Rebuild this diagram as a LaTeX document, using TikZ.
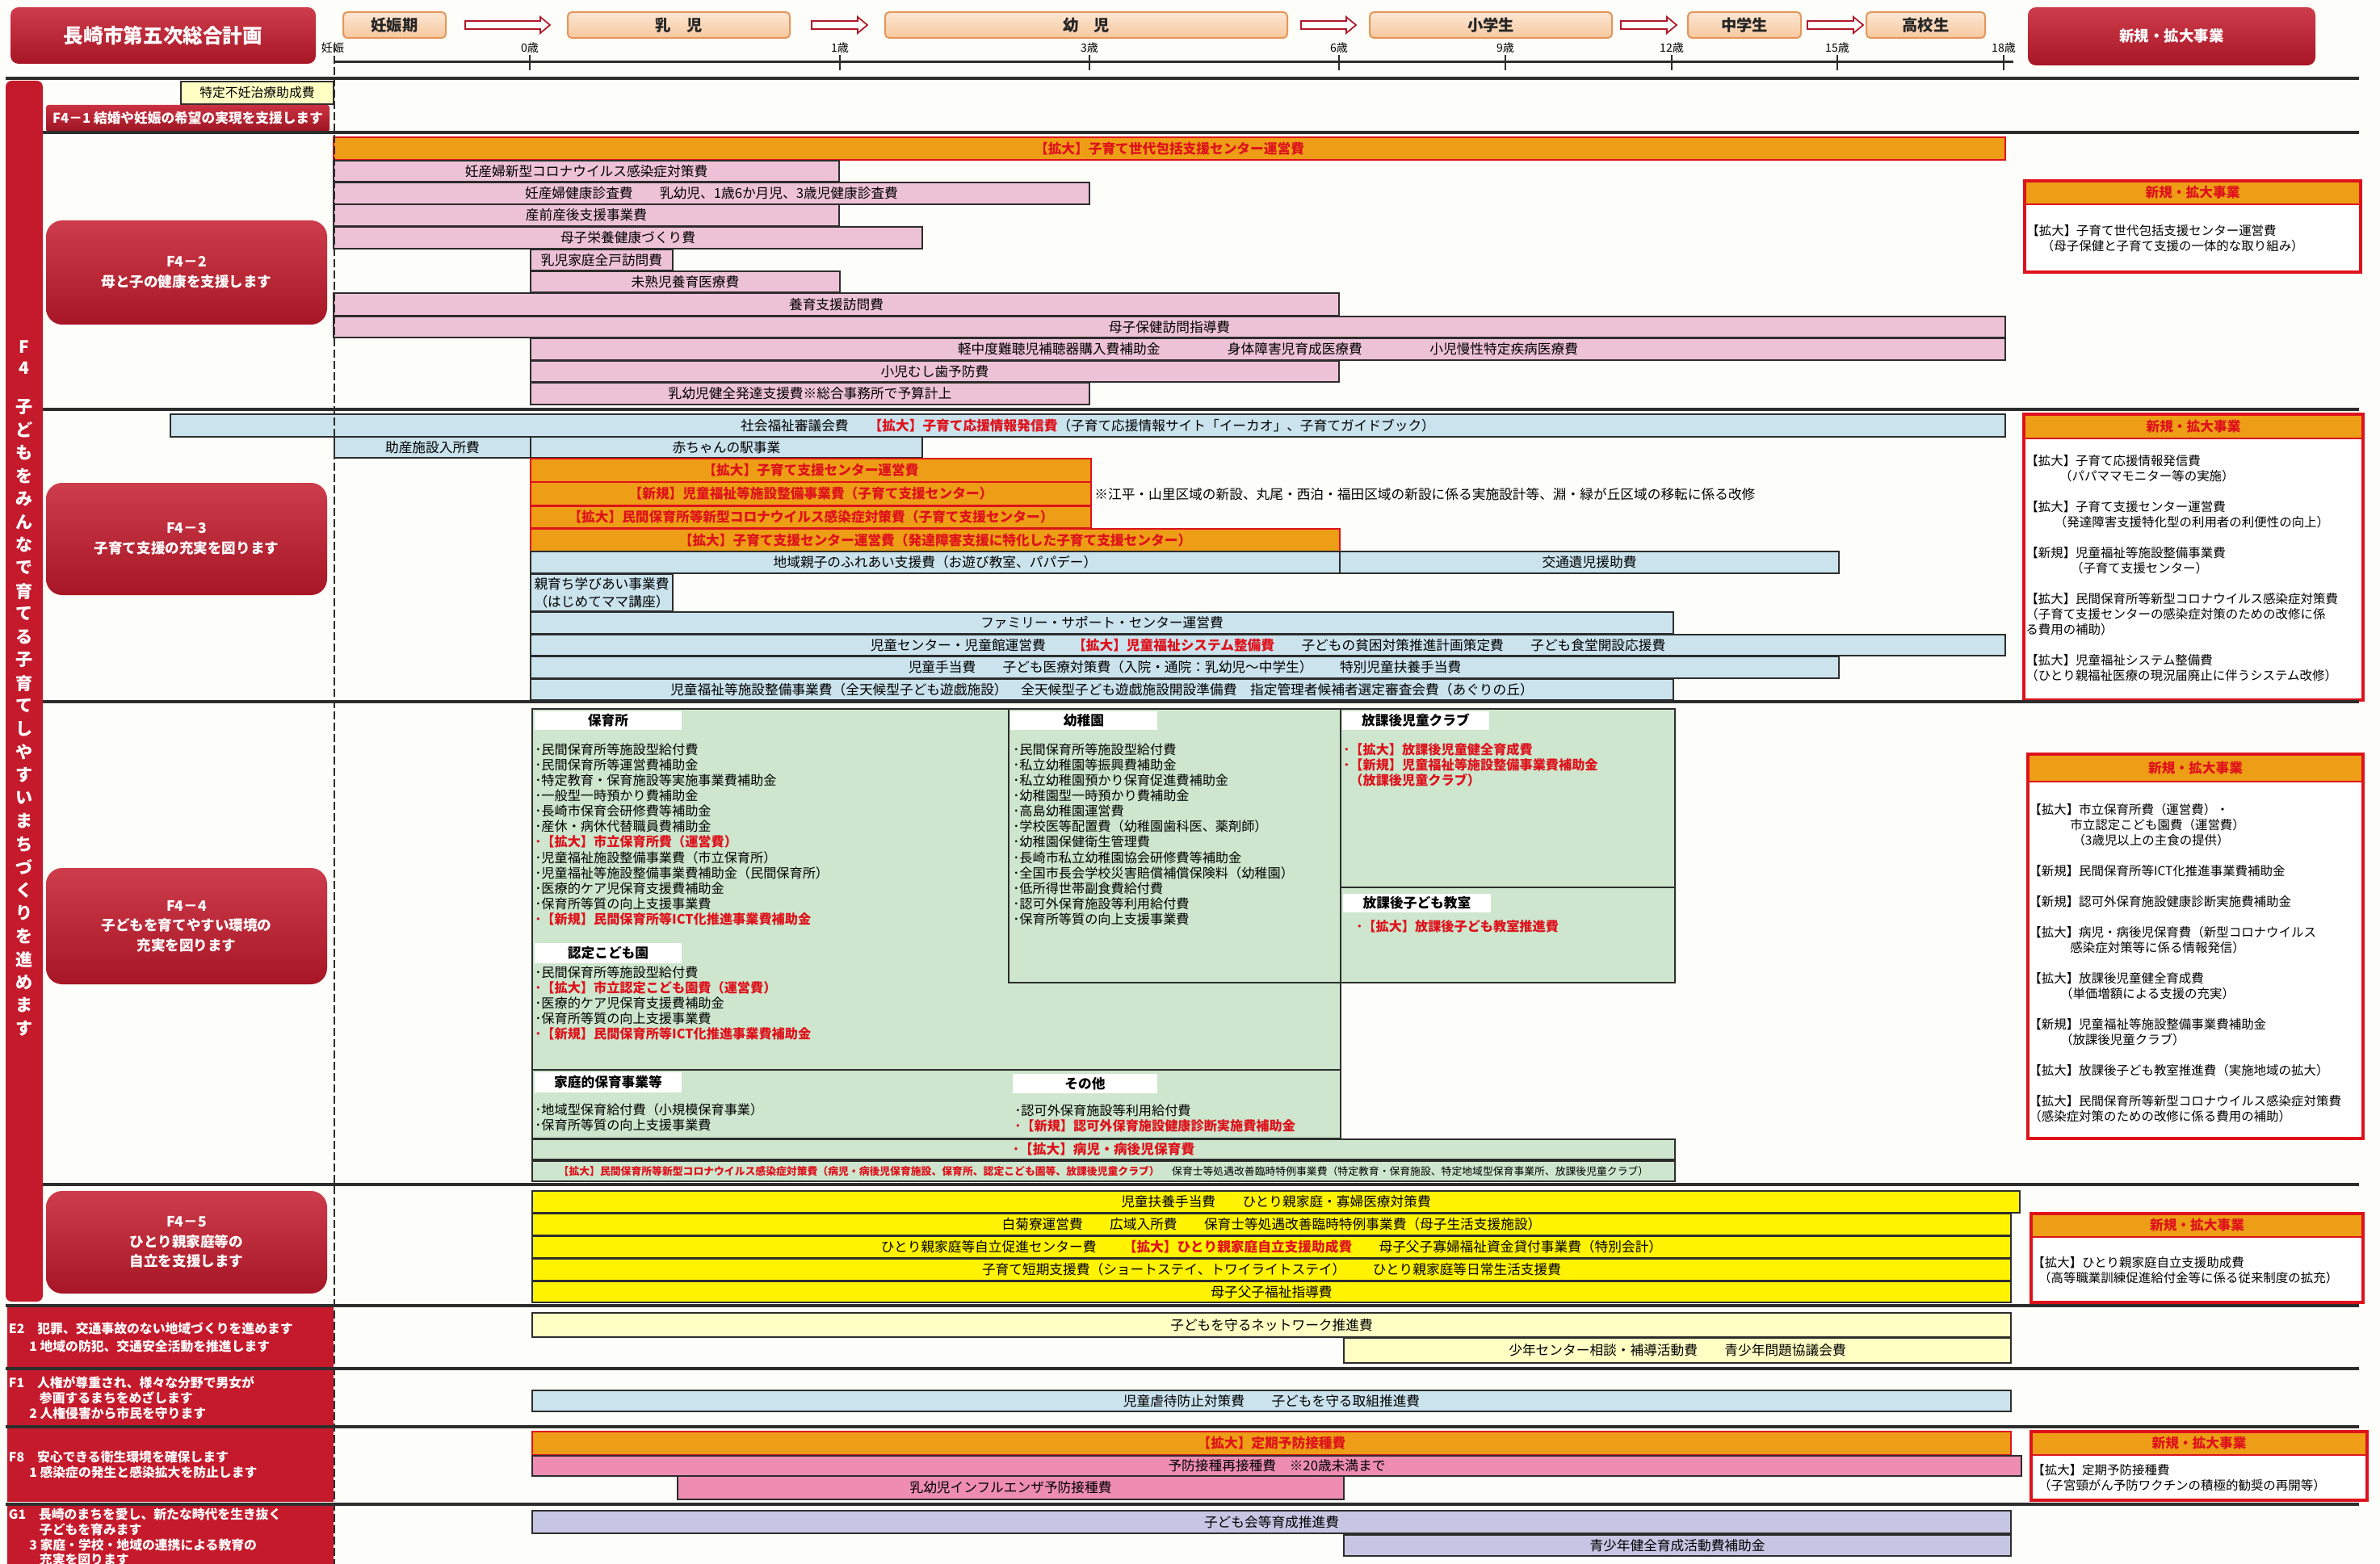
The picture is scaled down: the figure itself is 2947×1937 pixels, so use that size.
\documentclass[tikz,border=0pt]{standalone}
\usepackage{fontspec}
\setmainfont{Noto Sans CJK JP}
\usetikzlibrary{calc}
\definecolor{planRed}{RGB}{197,26,44}
\definecolor{planOrange}{RGB}{237,158,22}
\definecolor{planPink}{RGB}{238,194,214}
\definecolor{planRose}{RGB}{238,140,178}
\definecolor{planBlue}{RGB}{202,227,237}
\definecolor{planGreen}{RGB}{205,230,205}
\definecolor{planYellow}{RGB}{255,243,0}
\definecolor{planCream}{RGB}{255,255,196}
\definecolor{planLilac}{RGB}{198,198,228}
\definecolor{planPeach}{RGB}{247,200,158}
\definecolor{planPeachLine}{RGB}{230,150,90}
\definecolor{textRed}{RGB}{222,18,28}
\definecolor{lineGray}{RGB}{45,45,45}
\definecolor{paperWhite}{RGB}{253,253,249}
\newcommand{\Hot}[1]{{\bfseries\color{textRed}#1}}
\newcommand{\PlanBar}[7]{%
  \pgfmathsetmacro{\planw}{((#5)-(#3))*0.2}%
  \pgfmathsetmacro{\planh}{((#6)-(#4))*0.2}%
  \node[#2,minimum width=\planw mm,minimum height=\planh mm] (#1) at ({((#3)+(#5))/2},{((#4)+(#6))/2}) {#7};}
\newcommand{\NewsBox}[6]{%
  \fill[white] (#2,#3) rectangle (#4,#5);
  \PlanBar{#1}{newshead}{#2}{#3}{#4}{#6}{新規・拡大事業}
  \draw[textRed,line width=0.8mm] (#2,#3) rectangle (#4,#5);}
\newcommand{\StageArrow}[4]{%
  \draw[stagearrow] ($(#1.east)+(#3,-5)$) -- ($(#2.west)+(-#4-12,-5)$) -- ($(#2.west)+(-#4-12,-10)$)
    -- ($(#2.west)+(-#4,0)$) -- ($(#2.west)+(-#4-12,10)$) -- ($(#2.west)+(-#4-12,5)$)
    -- ($(#1.east)+(#3,5)$) -- cycle;}
\tikzset{
  planbase/.style={draw=lineGray,line width=0.35mm,inner sep=0pt,outer sep=0pt,text=black,font=\fontsize{9.5}{11.4}\selectfont},
  orangebar/.style={planbase,draw=textRed,line width=0.55mm,fill=planOrange,text=textRed,font=\bfseries\fontsize{9.5}{11.4}\selectfont},
  pinkbar/.style={planbase,fill=planPink},
  bluebar/.style={planbase,fill=planBlue},
  yellowbar/.style={planbase,fill=planYellow},
  creambar/.style={planbase,fill=planCream},
  rosebar/.style={planbase,fill=planRose},
  lilacbar/.style={planbase,fill=planLilac},
  greenpanel/.style={planbase,fill=planGreen},
  tagbox/.style={planbase,fill=planCream,font=\fontsize{9}{11}\selectfont},
  paneltag/.style={inner sep=0pt,fill=white,font=\bfseries\fontsize{9.5}{11.4}\selectfont},
  titlebox/.style={rounded corners=2mm,top color=planRed!85!white,bottom color=planRed!85!black,draw=none,inner sep=0pt,text=white,font=\bfseries\fontsize{14}{16}\selectfont},
  goalbox/.style={rounded corners=4mm,top color=planRed!85!white,bottom color=planRed!85!black,draw=none,inner sep=0pt,text=white,align=center,font=\bfseries\fontsize{10}{14}\selectfont},
  goalstrip/.style={rounded corners=0.6mm,top color=planRed!90!white,bottom color=planRed!80!black,draw=none,inner sep=0pt,text=white,font=\bfseries\fontsize{9.5}{11}\selectfont},
  sidebar/.style={rounded corners=1.5mm,fill=planRed,draw=none,inner sep=0pt},
  sideblock/.style={fill=planRed,draw=none,inner sep=0pt},
  sidetext/.style={anchor=west,align=left,inner sep=0pt,text=white,font=\bfseries\fontsize{9}{10.8}\selectfont},
  verttext/.style={inner sep=0pt,text=white,align=center,font=\bfseries\fontsize{12}{14.8}\selectfont},
  stagebox/.style={rounded corners=1mm,draw=planPeachLine,line width=0.4mm,top color=planPeach!45!white,bottom color=planPeach,inner sep=0pt,text=black!85,font=\bfseries\fontsize{11}{13}\selectfont},
  stagearrow/.style={draw=planRed!90!black,line width=0.35mm,fill=white,line join=miter},
  agelabel/.style={inner sep=0pt,font=\fontsize{8}{9}\selectfont},
  axisline/.style={draw=lineGray,line width=0.6mm},
  tickline/.style={draw=lineGray,line width=0.3mm},
  sepline/.style={draw=lineGray,line width=0.7mm},
  dashline/.style={draw=lineGray,line width=0.35mm,dash pattern=on 2mm off 0.8mm},
  newshead/.style={fill=planOrange,draw=textRed,line width=0.5mm,inner sep=0pt,text=textRed,font=\bfseries\fontsize{9.5}{11.4}\selectfont},
  newstext/.style={anchor=north west,align=left,inner sep=0pt,font=\fontsize{8.8}{10.8}\selectfont},
  listtext/.style={anchor=north west,align=left,inner sep=0pt,font=\fontsize{9.2}{10.9}\selectfont},
  notetext/.style={anchor=west,inner sep=0pt,font=\fontsize{9.5}{11.4}\selectfont}
}
\begin{document}
\begin{tikzpicture}[x=0.2mm,y=-0.2mm]
\fill[paperWhite] (0,0) rectangle (2947,1937);
\useasboundingbox (0,0) rectangle (2947,1937);

\PlanBar{title}{titlebox}{13}{9}{391}{79}{長崎市第五次総合計画}
\PlanBar{newhead}{titlebox,font=\bfseries\fontsize{10.5}{12}\selectfont}{2511}{9}{2867}{81}{新規・拡大事業}
\PlanBar{ninshin}{stagebox}{425}{15}{552}{47}{妊娠期}
\PlanBar{nyuji}{stagebox}{703}{15}{978}{47}{乳\hspace{1em}児}
\PlanBar{yoji}{stagebox}{1096}{15}{1594}{47}{幼\hspace{1em}児}
\PlanBar{shogaku}{stagebox}{1696}{15}{1996}{47}{小学生}
\PlanBar{chugaku}{stagebox}{2090}{15}{2230}{47}{中学生}
\PlanBar{koko}{stagebox}{2311}{15}{2458}{47}{高校生}
\StageArrow{ninshin}{nyuji}{23}{21}
\StageArrow{nyuji}{yoji}{26}{21}
\StageArrow{yoji}{shogaku}{16}{16}
\StageArrow{shogaku}{chugaku}{10}{13}
\StageArrow{chugaku}{koko}{7}{3}
\draw[axisline] (413,77) -- (2493,77);
\node[agelabel] (ageP) at (412,59) {妊娠};
\foreach \ax/\lab [count=\i] in {656/0歳,1040/1歳,1349/3歳,1658/6歳,1864/9歳,2070/12歳,2275/15歳,2481/18歳}{
  \draw[tickline] (\ax,68) -- (\ax,87);
  \node[agelabel] (age\i) at (\ax,59) {\lab};}

\PlanBar{f4bar}{sidebar}{7}{100}{53}{1612}{}
\node[verttext] (f4code) at (30,443) {F\\4};
\foreach \ch [count=\i] in {子,ど,も,を,み,ん,な,で,育,て,る,子,育,て,し,や,す,い,ま,ち,づ,く,り,を,進,め,ま,す}
  \node[verttext] (f4v\i) at (30,{475.5+\i*28.5}) {\ch};

\PlanBar{funin}{tagbox}{224}{101}{413}{129}{特定不妊治療助成費}
\PlanBar{f41}{goalstrip}{57}{130}{408}{163}{F4－1 結婚や妊娠の希望の実現を支援します}

\PlanBar{f42}{goalbox}{57}{273}{405}{402}{F4－2\\母と子の健康を支援します}
\PlanBar{hubCenter}{orangebar}{413}{170}{2483}{198}{【拡大】子育て世代包括支援センター運営費}
\PlanBar{pk1}{pinkbar}{413}{199}{1039}{225}{妊産婦新型コロナウイルス感染症対策費}
\PlanBar{pk2}{pinkbar}{413}{226}{1349}{253}{妊産婦健康診査費\hspace{2em}乳幼児、1歳6か月児、3歳児健康診査費}
\PlanBar{pk3}{pinkbar}{413}{253}{1039}{280}{産前産後支援事業費}
\PlanBar{pk4}{pinkbar}{413}{281}{1142}{308}{母子栄養健康づくり費}
\PlanBar{pk5}{pinkbar}{657}{309}{833}{335}{乳児家庭全戸訪問費}
\PlanBar{pk6}{pinkbar}{657}{336}{1040}{362}{未熟児養育医療費}
\PlanBar{pk7}{pinkbar}{413}{363}{1658}{391}{養育支援訪問費}
\PlanBar{pk8}{pinkbar}{413}{392}{2483}{418}{母子保健訪問指導費}
\PlanBar{pk9}{pinkbar}{657}{419}{2483}{446}{軽中度難聴児補聴器購入費補助金\hspace{5em}身体障害児育成医療費\hspace{5em}小児慢性特定疾病医療費}
\PlanBar{pk10}{pinkbar}{657}{447}{1658}{473}{小児むし歯予防費}
\PlanBar{pk11}{pinkbar}{657}{474}{1349}{501}{乳幼児健全発達支援費※総合事務所で予算計上}
\NewsBox{news42}{2507}{224}{2923}{337}{253}
\node[newstext] (news42text) at (2509,278) {【拡大】子育て世代包括支援センター運営費\\\hspace*{1.2em}（母子保健と子育て支援の一体的な取り組み）};

\PlanBar{f43}{goalbox}{57}{598}{405}{737}{F4－3\\子育て支援の充実を図ります}
\PlanBar{bl1}{bluebar}{211}{513}{2483}{541}{社会福祉審議会費\hspace{1.5em}\Hot{【拡大】子育て応援情報発信費}（子育て応援情報サイト「イーカオ」、子育てガイドブック）}
\PlanBar{bl2}{bluebar}{414}{541}{657}{567}{助産施設入所費}
\PlanBar{bl3}{bluebar}{657}{541}{1142}{567}{赤ちゃんの駅事業}
\PlanBar{or1}{orangebar}{657}{568}{1351}{597}{【拡大】子育て支援センター運営費}
\PlanBar{or2}{orangebar}{657}{597}{1351}{626}{【新規】児童福祉等施設整備事業費（子育て支援センター）}
\PlanBar{or3}{orangebar}{657}{627}{1351}{654}{【拡大】民間保育所等新型コロナウイルス感染症対策費（子育て支援センター）}
\PlanBar{or4}{orangebar}{657}{655}{1659}{683}{【拡大】子育て支援センター運営費（発達障害支援に特化した子育て支援センター）}
\node[notetext] (kaishuNote) at (1355,612) {※江平・山里区域の新設、丸尾・西泊・福田区域の新設に係る実施設計等、淵・緑が丘区域の移転に係る改修};
\PlanBar{bl4}{bluebar}{657}{683}{1659}{710}{地域親子のふれあい支援費（お遊び教室、パパデー）}
\PlanBar{bl5}{bluebar}{1659}{683}{2277}{710}{交通遺児援助費}
\PlanBar{bl6}{bluebar,align=center,font=\fontsize{9.5}{12.5}\selectfont}{657}{711}{833}{757}{親育ち学びあい事業費\\（はじめてママ講座）}
\PlanBar{bl7}{bluebar}{657}{758}{2072}{785}{ファミリー・サポート・センター運営費}
\PlanBar{bl8}{bluebar}{657}{786}{2483}{812}{児童センター・児童館運営費\hspace{2em}\Hot{【拡大】児童福祉システム整備費}\hspace{2em}子どもの貧困対策推進計画策定費\hspace{2em}子ども食堂開設応援費}
\PlanBar{bl9}{bluebar}{657}{813}{2277}{840}{児童手当費\hspace{2em}子ども医療対策費（入院・通院：乳幼児～中学生）\hspace{2em}特別児童扶養手当費}
\PlanBar{bl10}{bluebar}{657}{841}{2072}{867}{児童福祉等施設整備事業費（全天候型子ども遊戯施設）\hspace{1em}全天候型子ども遊戯施設開設準備費\hspace{1em}指定管理者候補者選定審査会費（あぐりの丘）}
\NewsBox{news43}{2506}{513}{2926}{867}{543}
\node[newstext] (news43text) at (2508,563) {【拡大】子育て応援情報発信費\\
\hspace*{2.7em}（パパママモニター等の実施）\\[3.8mm]
【拡大】子育て支援センター運営費\\
\hspace*{2.3em}（発達障害支援特化型の利用者の利便性の向上）\\[3.8mm]
【新規】児童福祉等施設整備事業費\\
\hspace*{3.6em}（子育て支援センター）\\[3.8mm]
【拡大】民間保育所等新型コロナウイルス感染症対策費\\
（子育て支援センターの感染症対策のための改修に係\\
る費用の補助）\\[3.8mm]
【拡大】児童福祉システム整備費\\
（ひとり親福祉医療の現況届廃止に伴うシステム改修）};

\PlanBar{f44}{goalbox}{57}{1075}{405}{1219}{F4－4\\子どもを育てやすい環境の\\充実を図ります}
\PlanBar{hoikuPanel}{greenpanel}{659}{878}{1660}{1325}{}
\PlanBar{yochienPanel}{greenpanel}{1249}{878}{1660}{1217}{}
\PlanBar{clubPanel}{greenpanel}{1660}{878}{2074}{1099}{}
\PlanBar{kyoshitsuPanel}{greenpanel}{1660}{1099}{2074}{1217}{}
\PlanBar{kateiPanel}{greenpanel}{659}{1325}{1660}{1410}{}
\PlanBar{byojiRow}{greenpanel}{659}{1411}{2074}{1436}{\Hot{･【拡大】病児・病後児保育費}}
\PlanBar{coronaRow}{greenpanel,font=\fontsize{7.3}{9}\selectfont}{659}{1438}{2074}{1463}{\Hot{【拡大】民間保育所等新型コロナウイルス感染症対策費（病児・病後児保育施設、保育所、認定こども園等、放課後児童クラブ）}\hspace{1.2em}保育士等処遇改善臨時特例事業費（特定教育・保育施設、特定地域型保育事業所、放課後児童クラブ）}
\PlanBar{hoikuTag}{paneltag}{662}{881}{844}{904}{保育所}
\PlanBar{yochienTag}{paneltag}{1251}{881}{1433}{904}{幼稚園}
\PlanBar{clubTag}{paneltag}{1662}{881}{1844}{904}{放課後児童クラブ}
\PlanBar{kyoshitsuTag}{paneltag}{1663}{1107}{1846}{1130}{放課後子ども教室}
\PlanBar{ninteiTag}{paneltag}{662}{1168}{844}{1193}{認定こども園}
\PlanBar{kateiTag}{paneltag}{662}{1328}{844}{1353}{家庭的保育事業等}
\PlanBar{sonotaTag}{paneltag}{1254}{1330}{1433}{1354}{その他}
\node[listtext] (hoikuList) at (662,920) {･民間保育所等施設型給付費\\
･民間保育所等運営費補助金\\
･特定教育・保育施設等実施事業費補助金\\
･一般型一時預かり費補助金\\
･長崎市保育会研修費等補助金\\
･産休・病休代替職員費補助金\\
\Hot{･【拡大】市立保育所費（運営費）}\\
･児童福祉施設整備事業費（市立保育所）\\
･児童福祉等施設整備事業費補助金（民間保育所）\\
･医療的ケア児保育支援費補助金\\
･保育所等質の向上支援事業費\\
\Hot{･【新規】民間保育所等ICT化推進事業費補助金}};
\node[listtext] (yochienList) at (1254,920) {･民間保育所等施設型給付費\\
･私立幼稚園等振興費補助金\\
･私立幼稚園預かり保育促進費補助金\\
･幼稚園型一時預かり費補助金\\
･高島幼稚園運営費\\
･学校医等配置費（幼稚園歯科医、薬剤師）\\
･幼稚園保健衛生管理費\\
･長崎市私立幼稚園協会研修費等補助金\\
･全国市長会学校災害賠償補償保険料（幼稚園）\\
･低所得世帯副食費給付費\\
･認可外保育施設等利用給付費\\
･保育所等質の向上支援事業費};
\node[listtext] (clubList) at (1663,920) {\Hot{･【拡大】放課後児童健全育成費}\\
\Hot{･【新規】児童福祉等施設整備事業費補助金}\\
\Hot{\hspace*{0.5em}（放課後児童クラブ）}};
\node[listtext] (kyoshitsuList) at (1679,1139) {\Hot{･【拡大】放課後子ども教室推進費}};
\node[listtext] (ninteiList) at (662,1196) {･民間保育所等施設型給付費\\
\Hot{･【拡大】市立認定こども園費（運営費）}\\
･医療的ケア児保育支援費補助金\\
･保育所等質の向上支援事業費\\
\Hot{･【新規】民間保育所等ICT化推進事業費補助金}};
\node[listtext] (kateiList) at (662,1366) {･地域型保育給付費（小規模保育事業）\\
･保育所等質の向上支援事業費};
\node[listtext] (sonotaList) at (1256,1367) {･認可外保育施設等利用給付費\\
\Hot{･【新規】認可外保育施設健康診断実施費補助金}};
\NewsBox{news44}{2511}{934}{2926}{1410}{968}
\node[newstext] (news44text) at (2512,995) {【拡大】市立保育所費（運営費）・\\
\hspace*{3.3em}市立認定こども園費（運営費）\\
\hspace*{3.5em}（3歳児以上の主食の提供）\\[3.8mm]
【新規】民間保育所等ICT化推進事業費補助金\\[3.8mm]
【新規】認可外保育施設健康診断実施費補助金\\[3.8mm]
【拡大】病児・病後児保育費（新型コロナウイルス\\
\hspace*{3.3em}感染症対策等に係る情報発信）\\[3.8mm]
【拡大】放課後児童健全育成費\\
\hspace*{2.5em}（単価増額による支援の充実）\\[3.8mm]
【新規】児童福祉等施設整備事業費補助金\\
\hspace*{2.5em}（放課後児童クラブ）\\[3.8mm]
【拡大】放課後子ども教室推進費（実施地域の拡大）\\[3.8mm]
【拡大】民間保育所等新型コロナウイルス感染症対策費\\
（感染症対策のための改修に係る費用の補助）};

\PlanBar{f45}{goalbox}{57}{1475}{405}{1602}{F4－5\\ひとり親家庭等の\\自立を支援します}
\PlanBar{ye1}{yellowbar}{659}{1475}{2501}{1502}{児童扶養手当費\hspace{2em}ひとり親家庭・寡婦医療対策費}
\PlanBar{ye2}{yellowbar}{659}{1503}{2490}{1530}{白菊寮運営費\hspace{2em}広域入所費\hspace{2em}保育士等処遇改善臨時特例事業費（母子生活支援施設）}
\PlanBar{ye3}{yellowbar}{659}{1531}{2490}{1558}{ひとり親家庭等自立促進センター費\hspace{2em}\Hot{【拡大】ひとり親家庭自立支援助成費}\hspace{2em}母子父子寡婦福祉資金貸付事業費（特別会計）}
\PlanBar{ye4}{yellowbar}{659}{1559}{2490}{1586}{子育て短期支援費（ショートステイ、トワイライトステイ）\hspace{2em}ひとり親家庭等日常生活支援費}
\PlanBar{ye5}{yellowbar}{659}{1587}{2490}{1613}{母子父子福祉指導費}
\NewsBox{news45}{2515}{1503}{2926}{1613}{1532}
\node[newstext] (news45text) at (2516,1556) {【拡大】ひとり親家庭自立支援助成費\\\hspace*{0.5em}（高等職業訓練促進給付金等に係る従来制度の拡充）};

\PlanBar{e2}{sideblock}{9}{1619}{413}{1693}{}
\node[sidetext] (e2text) at ([xshift=0.4mm]e2.west) {E2\hspace{1em}犯罪、交通事故のない地域づくりを進めます\\[0.6mm]\hspace*{1.6em}1 地域の防犯、交通安全活動を推進します};
\PlanBar{cr1}{creambar}{659}{1626}{2490}{1656}{子どもを守るネットワーク推進費}
\PlanBar{cr2}{creambar}{1664}{1657}{2490}{1688}{少年センター相談・補導活動費\hspace{2em}青少年問題協議会費}

\PlanBar{f1}{sideblock}{9}{1697}{413}{1765}{}
\node[sidetext] (f1text) at ([xshift=0.4mm]f1.west) {F1\hspace{1em}人権が尊重され、様々な分野で男女が\\\hspace*{2.4em}参画するまちをめざします\\\hspace*{1.6em}2 人権侵害から市民を守ります};
\PlanBar{bl11}{bluebar}{659}{1722}{2490}{1748}{児童虐待防止対策費\hspace{2em}子どもを守る取組推進費}

\PlanBar{f8}{sideblock}{9}{1768}{413}{1860}{}
\node[sidetext] (f8text) at ([xshift=0.4mm]f8.west) {F8\hspace{1em}安心できる衛生環境を確保します\\\hspace*{1.6em}1 感染症の発生と感染拡大を防止します};
\PlanBar{or5}{orangebar}{659}{1773}{2490}{1802}{【拡大】定期予防接種費}
\PlanBar{ro1}{rosebar}{659}{1803}{2503}{1828}{予防接種再接種費\hspace{1em}※20歳未満まで}
\PlanBar{ro2}{rosebar}{839}{1828}{1664}{1857}{乳幼児インフルエンザ予防接種費}
\NewsBox{news8}{2515}{1773}{2931}{1858}{1802}
\node[newstext] (news8text) at (2516,1813) {【拡大】定期予防接種費\\\hspace*{0.5em}（子宮頸がん予防ワクチンの積極的勧奨の再開等）};

\PlanBar{g1}{sideblock}{9}{1864}{413}{1943}{}
\node[sidetext] (g1text) at ([xshift=0.4mm]g1.west) {G1\hspace{1em}長崎のまちを愛し、新たな時代を生き抜く\\\hspace*{2.4em}子どもを育みます\\\hspace*{1.6em}3 家庭・学校・地域の連携による教育の\\\hspace*{2.4em}充実を図ります};
\PlanBar{li1}{lilacbar}{659}{1871}{2490}{1899}{子ども会等育成推進費}
\PlanBar{li2}{lilacbar}{1664}{1901}{2490}{1927}{青少年健全育成活動費補助金}

\foreach \sy in {164,507,869,1467} \draw[sepline] (53,\sy) -- (2921,\sy);
\foreach \sy in {97,1617,1695,1767,1863} \draw[sepline] (7,\sy) -- (2921,\sy);
\draw[dashline] (414,55) -- (414,1937);
\end{tikzpicture}
\end{document}
